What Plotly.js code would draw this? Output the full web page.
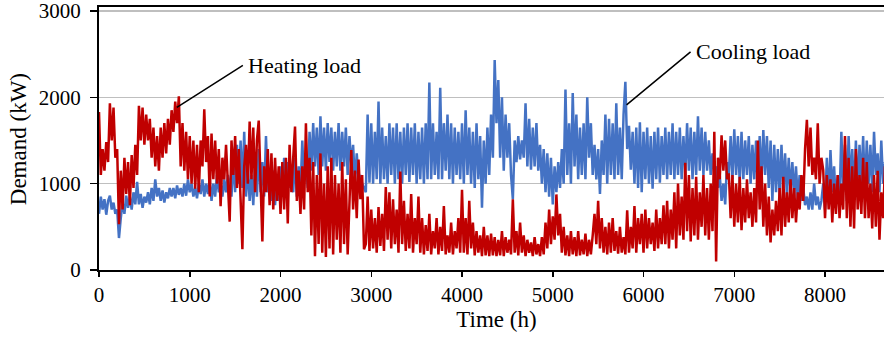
<!DOCTYPE html>
<html>
<head>
<meta charset="utf-8">
<script src="https://cdn.plot.ly/plotly-3.0.1.min.js"></script>
<style>
html,body{margin:0;padding:0;overflow:hidden;background:#fff;width:884px;height:338px;}
#chart{width:904px;height:338px;}
</style>
</head>
<body>
<div id="chart"></div>
<script>
// Sample spacing of the read-off values (hours)
const stepHours = 20;

// Heating load (kW), every 20 h, t = 0 … 8760 h
const heatingLoad = [
1830,1100,1400,1150,1480,1250,1930,1500,1880,1300,1400,530,1150,
700,1300,880,1250,750,1330,950,1450,1100,
1900,1500,1880,1450,1800,1500,1750,
1300,1650,1200,1550,1150,1650,1300,1700,1350,1750,1450,
1850,1600,1950,1700,2010,1200,
1700,1150,1600,1050,1550,1000,1500,940,1450,900,1500,1200,1860,1250,
1550,850,1580,1050,1500,1000,1400,740,1300,1050,1450,900,560,
1500,1100,1550,950,1400,800,240,1200,1450,1000,1720,1050,1650,900,1500,1730,900,330,
1200,900,1400,750,1350,700,1300,800,1200,650,1250,700,1300,540,1450,900,1300,1660,800,1150,650,1200,700,1700,900,
1300,400,1250,160,1100,300,1350,200,1000,150,1200,250,1300,180,1100,350,1000,200,1250,300,1050,180,900,1390,700,1150,600,1280,820,1100,
240,300,850,
220,700,250,600,200,730,280,650,220,960,350,900,250,820,300,700,200,1140,300,800,220,650,
250,880,200,600,300,850,200,600,180,520,220,650,180,450,250,600,180,500,220,740,180,400,200,550,180,450,250,600,200,930,
200,600,180,800,250,550,170,450,200,400,160,500,170,400,160,420,170,
380,160,350,170,450,160,380,200,350,180,820,200,450,170,550,200,400,160,350,200,320,160,380,180,300,160,380,180,
550,250,700,300,620,350,875,400,650,200,500,
170,400,160,450,180,380,160,450,170,350,180,420,160,350,180,400,
650,300,800,250,600,200,
500,180,550,200,600,220,450,190,500,200,380,180,
690,200,500,250,740,200,600,300,650,200,700,250,600,300,550,220,700,250,600,300,750,
300,800,250,700,350,900,250,1000,400,850,350,1240,450,1100,330,950,400,1080,350,900,500,1100,400,950,350,1000,450,
1600,100,1300,
1050,1560,1150,1500,1050,1120,600,1100,500,1000,550,1080,460,950,550,1050,600,900,500,950,550,
1500,700,1200,500,1000,400,850,320,700,400,800,450,950,400,1080,500,900,550,1050,600,950,550,900,700,1100,800,
1400,1740,1200,1650,1100,1300,1050,1700,1000,1300,
1160,600,1100,700,1050,550,1000,650,1100,600,1000,700,
1550,600,1300,500,1200,480,1400,700,1100,650,1300,600,1250,
600,1000,480,1100,500,1150,350,900,600,1200,500,1000,700,1150,800
];

// Cooling load (kW), same time stamps
const coolingLoad = [
650,850,700,820,640,800,860,700,780,650,700,370,600,
780,650,860,720,850,700,900,760,1020,
760,880,720,850,780,900,760,
950,800,1050,850,950,800,920,780,900,830,950,
850,950,830,980,870,950,
850,1000,860,1050,900,1000,850,950,830,1000,880,1050,850,1000,
880,1050,800,1000,850,1100,900,1000,850,1050,900,1100,1000,
850,1300,900,1450,1000,1500,950,1600,850,1200,800,1100,750,1250,850,1400,900,1250,
850,1550,900,1100,800,1150,750,1050,800,1200,850,1300,900,1250,950,1100,900,1300,850,1200,900,1500,1000,1250,950,
1600,1150,1700,1200,1650,1100,1780,1200,1650,1150,1700,1250,1650,1150,1600,1200,1700,1150,1600,1200,1650,1100,1550,1200,1450,1000,1350,1050,1100,1000,
950,900,1800,
1010,1700,1000,1600,1050,1950,1000,1650,1050,1550,1000,1700,1100,1650,1000,1700,1050,1600,1000,1650,1100,1700,
1020,1650,1100,1700,1000,1600,1050,1650,1000,1700,1050,2170,1050,1700,1100,1600,1050,2110,1050,1700,1150,1800,1050,1700,1000,1650,1100,1600,1050,1700,
1000,1850,1100,1650,1000,1600,950,1700,1050,1550,720,1500,1000,1650,1100,1800,1300,
2430,1700,2200,1300,2000,1150,1800,1300,1700,1100,820,1500,1250,1550,1280,1500,1300,1930,1200,1750,1160,1650,1200,1700,1150,1450,1000,1400,
900,1350,850,1300,760,1200,900,1250,950,1400,1000,
2090,1100,1700,1000,2050,1200,1800,1050,1650,1100,1700,1050,2000,1300,1700,1100,
1450,1050,1400,880,1500,1100,
1800,1000,1750,1100,1700,1050,1930,1100,1650,1050,1800,2180,
1400,1670,1160,1600,1000,1650,950,1710,900,1600,1050,1650,1000,1550,940,1600,1050,1650,1010,1550,1100,
1650,1050,1600,1100,1700,1050,1600,1100,1650,1050,1550,1100,1700,1150,1650,1050,1600,1100,1780,1150,1650,1100,1600,1150,1500,1100,1350,
1100,1200,950,
1100,800,1000,760,1250,1100,1550,1050,1630,1100,1550,1010,1600,1050,1500,1100,1550,1000,1450,1050,1500,
900,1550,1000,1620,1100,1550,950,1500,800,1450,900,1400,850,1450,950,1350,850,1300,900,1250,850,1200,800,1100,800,950,
750,850,700,900,700,1000,750,850,700,800,
1000,700,1300,800,1390,900,1200,760,1100,800,1600,900,
1450,800,1550,1000,1400,850,1500,900,1450,1000,1550,900,1500,
1000,1450,900,1600,1100,1350,900,1500,1000,1250,950,1400,1000,1200,950
];

const hours = heatingLoad.map((_, i) => i * stepHours);

const xTicks = [0,1000,2000,3000,4000,5000,6000,7000,8000];
const yTicks = [0,1000,2000,3000];
const xTitle = 'Time (h)';
const yTitle = 'Demand (kW)';
const heatingLabel = 'Heating load';
const coolingLabel = 'Cooling load';
const heatingCallout = {t: 858, v: 1884};
const coolingCallout = {t: 5813, v: 1912};

const FONT = 'Liberation Serif, Times New Roman, serif';

const traces = [
  {x: hours, y: coolingLoad, type: 'scatter', mode: 'lines', name: coolingLabel,
   line: {color: '#4472C4', width: 2.5}, hoverinfo: 'skip'},
  {x: hours, y: heatingLoad, type: 'scatter', mode: 'lines', name: heatingLabel,
   line: {color: '#C00000', width: 2.5}, hoverinfo: 'skip'}
];

const layout = {
  width: 904, height: 338,
  margin: {l: 99, r: 10, t: 7, b: 68},
  paper_bgcolor: '#fff', plot_bgcolor: '#fff',
  showlegend: false,
  font: {family: FONT, size: 21, color: '#000'},
  xaxis: {
    range: [0, 8760], tickvals: xTicks, ticktext: xTicks.map(String),
    showgrid: false, zeroline: false,
    showline: true, linecolor: '#000', linewidth: 2, mirror: true,
    ticks: 'outside', ticklen: 5, tickwidth: 1.5, tickcolor: '#000',
    tickfont: {family: FONT, size: 21, color: '#000'},
    title: {text: xTitle, font: {family: FONT, size: 23, color: '#000'}, standoff: 4}
  },
  yaxis: {
    range: [0, 3045], tickvals: yTicks, ticktext: yTicks.map(String),
    showgrid: true, gridcolor: '#BFBFBF', gridwidth: 1.5, zeroline: false,
    showline: true, linecolor: '#000', linewidth: 2,
    ticks: 'outside', ticklen: 7, tickwidth: 1.5, tickcolor: '#000',
    ticklabeloverflow: 'allow', ticklabelstandoff: 5,
    tickfont: {family: FONT, size: 21, color: '#000'}
  },
  annotations: [
    {xref: 'paper', yref: 'paper', x: -0.102, y: 0.497, xanchor: 'center', yanchor: 'middle',
     text: yTitle, textangle: -90, showarrow: false,
     font: {family: FONT, size: 23, color: '#000'}},
    {x: heatingCallout.t, y: heatingCallout.v, xref: 'x', yref: 'y',
     text: heatingLabel, showarrow: true, arrowhead: 0, arrowwidth: 1.5, arrowcolor: '#000',
     ax: 66, ay: -42, xanchor: 'left', yanchor: 'middle', borderpad: 4,
     font: {family: FONT, size: 22, color: '#000'}},
    {x: coolingCallout.t, y: coolingCallout.v, xref: 'x', yref: 'y',
     text: coolingLabel, showarrow: true, arrowhead: 0, arrowwidth: 1.5, arrowcolor: '#000',
     ax: 64, ay: -53, xanchor: 'left', yanchor: 'middle', borderpad: 4,
     font: {family: FONT, size: 22, color: '#000'}}
  ]
};

Plotly.newPlot('chart', traces, layout, {displayModeBar: false, staticPlot: true});
</script>
</body>
</html>
